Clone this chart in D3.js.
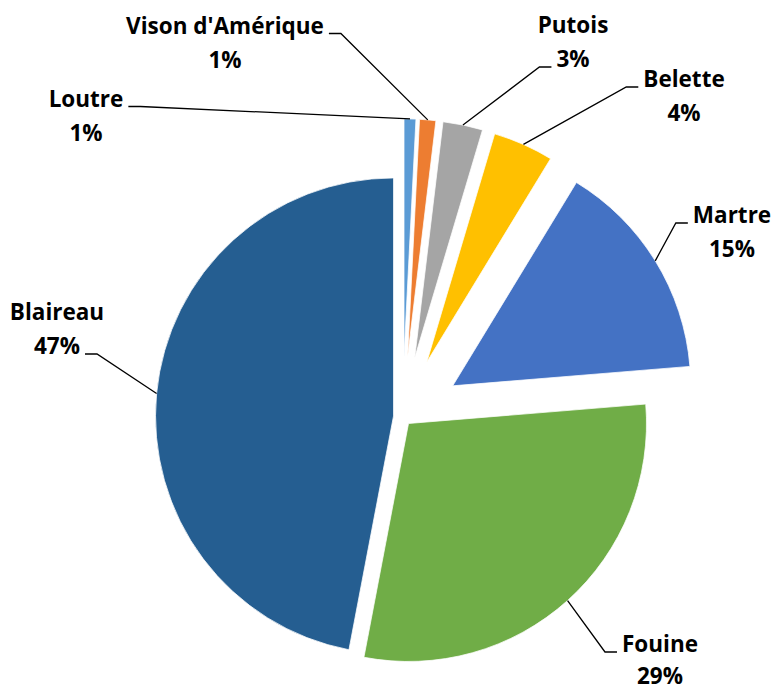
<!DOCTYPE html>
<html lang="fr">
<head>
<meta charset="UTF-8">
<script src="https://d3js.org/d3.v7.min.js"></script>
<style>
  html, body { margin: 0; padding: 0; background: #fff; }
  svg text { font-family: "Open Sans", "Noto Sans", sans-serif; font-weight: 700; fill: #000; }
</style>
<title>Répartition des espèces</title>
</head>
<body>
<div id="chart"></div>
<script>
// Données
const species = ["Loutre", "Vison d'Amérique", "Putois", "Belette", "Martre", "Fouine", "Blaireau"];
const shares = [0.8, 1.1, 2.7, 4.1, 15.0, 29.3, 47.0];
const colors = ["#5B9BD5", "#ED7D31", "#A5A5A5", "#FFC000", "#4472C4", "#70AD47", "#255E91"];

// Mise en page
const width = 775, height = 686;
const cx = 402.5, cy = 416.8, radius = 238;
const explode = [60, 60, 60, 60, 59, 9, 9];
// position du libellé : centre x, ligne de base 1, ligne où arrive le trait
const labelPos = {
    "Loutre": [86, 106.5, 0],
    "Vison d'Amérique": [225, 33.5, 0],
    "Putois": [573, 33, 1],
    "Belette": [684, 87, 0],
    "Martre": [732, 223, 0],
    "Fouine": [660, 652, 0],
    "Blaireau": [57, 320, 1]
};
const lineGap = 34;

const svg = d3.select("#chart").append("svg")
    .attr("width", width)
    .attr("height", height);

const total = d3.sum(shares);
const pie = d3.pie().sort(null).value(d => d);
const arcs = pie(shares);
const arc = d3.arc().innerRadius(0).outerRadius(radius);

function offset(d, i) {
    const mid = (d.startAngle + d.endAngle) / 2;
    return [cx + Math.sin(mid) * explode[i], cy - Math.cos(mid) * explode[i]];
}

// parts
svg.append("g").selectAll("path")
    .data(arcs)
    .join("path")
    .attr("transform", (d, i) => "translate(" + offset(d, i) + ")")
    .attr("d", arc)
    .attr("fill", (d, i) => colors[i])
    .attr("stroke", "#fff")
    .attr("stroke-width", 0.75);

// libellés + traits de rappel
const labels = svg.append("g");
arcs.forEach(function (d, i) {
    const name = species[i];
    const p = labelPos[name];
    const t = labels.append("text")
        .attr("text-anchor", "middle")
        .style("font-size", "22.5px");
    t.append("tspan").attr("x", p[0]).attr("y", p[1]).text(name);
    t.append("tspan").attr("x", p[0]).attr("y", Math.min(p[1] + lineGap, 684))
        .text(Math.round(shares[i] / total * 100) + "%");

    const spans = t.selectAll("tspan").nodes();
    const w = spans[p[2]].getComputedTextLength();
    const ly = p[1] + p[2] * lineGap;

    const mid = (d.startAngle + d.endAngle) / 2;
    const o = offset(d, i);
    const ax = o[0] + Math.sin(mid) * radius;
    const ay = o[1] - Math.cos(mid) * radius;

    const left = p[0] < ax;
    const x0 = left ? p[0] + w / 2 + 5 : p[0] - w / 2 - 5;
    const x1 = left ? x0 + 12 : x0 - 12;

    labels.append("path")
        .attr("d", "M" + x0 + "," + ly + "L" + x1 + "," + ly + "L" + ax + "," + ay)
        .attr("fill", "none")
        .attr("stroke", "#000")
        .attr("stroke-width", 1.3);
});
</script>
</body>
</html>
